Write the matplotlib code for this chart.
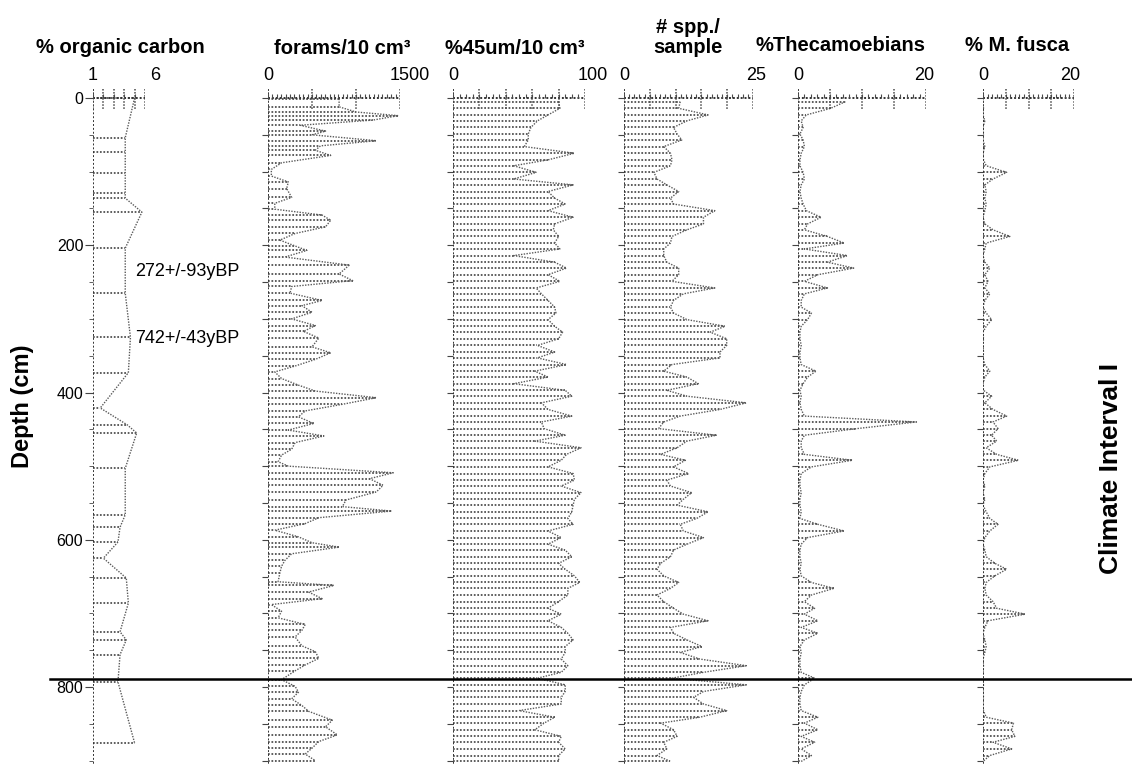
import matplotlib
matplotlib.use('Agg')
import matplotlib.pyplot as plt
import numpy as np

plt.rcParams['font.family'] = ['Liberation Sans', 'DejaVu Sans']

# ---- data ----
oc_depth = [0, 54, 73, 102, 129, 136, 155, 204, 265, 325, 373, 421, 444, 455, 503,
            566, 583, 603, 625, 652, 686, 725, 736, 756, 793, 876]
oc = [5.0, 4.1, 4.1, 4.1, 4.1, 4.1, 5.7, 4.1, 4.1, 4.6, 4.4, 1.7, 4.3, 5.2, 4.1,
      4.1, 3.6, 3.4, 2.0, 4.2, 4.4, 3.6, 4.2, 3.6, 3.4, 5.0]

forams_depth = [1, 12, 19, 24, 30, 37, 45, 50, 58, 65, 71, 78, 88, 97, 106, 114, 123, 135, 143, 151,
                159, 166, 175, 184, 193, 201, 207, 216, 227, 239, 248, 256, 265, 275, 282, 291, 300, 309, 317, 326,
                338, 346, 355, 364, 372, 381, 390, 398, 407, 416, 425, 433, 442, 451, 459, 468, 477, 485, 494, 500,
                509, 517, 526, 535, 546, 555, 561, 570, 578, 587, 596, 604, 610, 619, 628, 636, 645, 657, 662, 671,
                680, 688, 697, 706, 715, 723, 732, 744, 752, 761, 770, 778, 790, 799, 807, 816, 825, 833, 845, 854,
                865, 874, 883, 891, 900]
forams = [808, 808, 1000, 1480, 1192, 365, 654, 500, 1231, 596, 538, 712, 154, 38, 38, 231, 212, 269, 77, 77,
          615, 712, 654, 308, 135, 308, 442, 192, 923, 808, 962, 269, 250, 615, 385, 500, 269, 538, 404, 577,
          500, 712, 538, 308, 77, 154, 346, 538, 1231, 846, 423, 346, 519, 231, 635, 308, 269, 154, 115, 231,
          1423, 1154, 1308, 1231, 885, 846, 1404, 577, 423, 77, 346, 500, 808, 269, 192, 154, 135, 115, 750, 462,
          615, 38, 154, 115, 423, 385, 308, 385, 538, 577, 423, 308, 154, 308, 346, 269, 385, 462, 731, 654,
          788, 577, 500, 423, 538]

depth = [5, 14, 23, 31, 40, 49, 57, 66, 75, 84, 92, 101, 110, 118, 127, 136, 144, 153, 162, 171,
         179, 188, 197, 205, 214, 223, 231, 240, 249, 258, 266, 275, 284, 292, 301, 310, 318, 327, 336, 345,
         353, 362, 371, 379, 388, 397, 405, 414, 423, 432, 440, 449, 458, 466, 475, 484, 492, 501, 510, 519,
         527, 536, 545, 553, 562, 571, 579, 588, 597, 606, 614, 623, 632, 640, 649, 658, 666, 675, 684, 693,
         701, 710, 719, 727, 736, 745, 753, 762, 771, 780, 788, 797, 806, 814, 823, 832, 841, 849, 858, 867,
         875, 884, 893, 901]

pct45 = [80, 81, 72, 64, 59, 57, 57, 54, 92, 72, 46, 63, 46, 91, 72, 77, 85, 72, 91, 77,
         76, 80, 77, 81, 46, 77, 86, 72, 81, 63, 67, 72, 77, 78, 72, 77, 83, 80, 64, 77,
         64, 86, 62, 72, 46, 85, 90, 67, 72, 90, 67, 69, 85, 62, 97, 86, 82, 72, 91, 92,
         82, 97, 92, 91, 90, 87, 91, 72, 82, 72, 85, 90, 80, 85, 92, 96, 87, 87, 80, 72,
         82, 72, 82, 87, 91, 85, 85, 82, 87, 82, 64, 85, 85, 82, 82, 50, 77, 69, 62, 82,
         80, 85, 80, 80]

spp = [10.9, 10.6, 16.3, 12.2, 9.6, 10.3, 11.2, 7.7, 9.0, 9.3, 9.0, 5.8, 6.4, 8.3, 10.6, 9.0, 9.6, 17.6, 15.4, 15.4,
       12.2, 9.3, 9.0, 7.7, 7.7, 8.3, 10.6, 10.6, 9.3, 17.6, 11.5, 9.6, 9.0, 9.6, 12.2, 19.6, 16.7, 19.9, 19.9, 18.6,
       18.6, 9.3, 7.7, 12.2, 14.4, 8.3, 12.2, 23.7, 18.6, 10.9, 7.7, 6.7, 17.9, 12.2, 10.3, 7.1, 11.9, 9.6, 12.5, 8.3,
       9.0, 13.1, 11.5, 10.3, 16.3, 14.1, 10.9, 11.5, 15.4, 12.2, 9.6, 9.0, 7.1, 6.4, 7.7, 10.6, 9.0, 6.4, 7.7, 9.6,
       11.5, 16.3, 9.0, 9.6, 12.2, 15.1, 10.9, 14.7, 23.7, 15.4, 9.3, 23.7, 15.4, 13.5, 15.4, 19.9, 14.7, 7.1, 9.6, 10.3,
       7.7, 8.3, 6.4, 9.0]

theca = [7.4, 5.1, 1.3, 0.5, 0.8, 0.3, 0.8, 1.0, 0.5, 0.3, 0.3, 0.8, 1.0, 0.5, 0.3, 0.5, 0.8, 1.3, 3.6, 1.5,
         1.0, 4.6, 7.2, 1.0, 7.7, 4.6, 8.7, 3.1, 1.0, 4.6, 1.0, 0.5, 0.5, 2.1, 1.5, 0.5, 0.3, 0.3, 0.5, 0.3,
         0.3, 0.5, 2.8, 1.5, 0.8, 0.3, 0.5, 0.3, 0.5, 1.0, 18.5, 9.2, 1.0, 0.5, 0.5, 1.0, 8.5, 2.1, 0.5, 0.3,
         0.3, 0.5, 0.3, 0.3, 0.5, 0.3, 3.1, 7.2, 1.5, 0.5, 0.3, 0.3, 0.5, 0.3, 0.5, 2.1, 5.6, 2.1, 1.0, 2.6,
         1.0, 3.1, 0.5, 3.1, 1.0, 0.3, 0.5, 0.3, 0.3, 0.5, 2.6, 1.0, 0.5, 0.3, 0.3, 0.5, 3.1, 1.0, 3.1, 0.5,
         2.6, 0.5, 2.1, 0.5]

fusca = [0, 0.1, 0, 0.4, 0, 0.1, 0, 0.4, 0, 0.1, 0.7, 5.2, 2.2, 0.4, 0.7, 0.4, 0.7, 0.4, 0, 0.4,
         2.2, 5.9, 0.7, 0.4, 0, 0.4, 1.5, 0.4, 1.1, 0.4, 1.5, 0.4, 0, 0.7, 1.9, 0.7, 0, 0.1, 0, 0.1,
         0, 0.4, 1.5, 0.4, 0, 0.1, 1.9, 0.4, 2.2, 5.2, 2.2, 3.3, 1.9, 3.0, 0.7, 3.0, 7.8, 1.5, 0.4, 0,
         0.4, 0, 0.4, 0, 0.7, 1.5, 3.3, 1.5, 0.4, 0, 0.4, 0.7, 2.6, 5.2, 2.6, 0.7, 0.4, 0.7, 2.2, 3.0,
         9.3, 1.1, 0.4, 0, 0.4, 0.7, 0.4, 0, 0.1, 0, 0, 0.1, 0, 0.1, 0, 0.1, 0.7, 6.7, 6.3, 7.0,
         2.2, 6.3, 1.5, 0]

depth_ticks = [0, 200, 400, 600, 800]
boundary_depth = 789
dates = [(235, '272+/-93yBP'), (326, '742+/-43yBP')]

# ---- layout (pixels) ----
W, H = 1132, 764
Y0 = 98            # pixel row of depth 0
PX = 0.7363        # pixels per cm
D_TOP = -16
D_BOT = (H - Y0) / PX
ax_h = (H - (Y0 + D_TOP * PX)) / H

fig = plt.figure(figsize=(W / 100, H / 100), dpi=100)

DOT = (0, (1, 1))
GREY = '#4a4a4a'


def panel(x0, x1, lo, hi, major, minor, dep, vals, scale_lbls, hi_off):
    ax = fig.add_axes([x0 / W, 0, (x1 - x0) / W, ax_h])
    ax.patch.set_visible(False)
    ax.set_xlim(lo, hi)
    ax.set_ylim(D_BOT, D_TOP)
    for s in ax.spines.values():
        s.set_visible(False)
    ax.set_xticks([])
    # samples
    ax.hlines(dep, lo, vals, colors=GREY, linewidth=1.25, linestyles=DOT)
    ax.plot(vals, dep, color='#5a5a5a', lw=1.0, ls=DOT)
    ax.plot([lo, lo], [D_TOP + 4, D_BOT], color='#333333', lw=1.4, ls=DOT)
    # header scale
    ax.plot([lo, hi], [0, 0], color='#333333', lw=1.4, ls=DOT, clip_on=False)
    ax.vlines(np.arange(lo, hi + 1e-9, major), -12, 15, colors=GREY, lw=1.1, linestyles=DOT)
    ax.vlines(np.arange(lo, hi + 1e-9, minor), -6, 0, colors=GREY, lw=0.8)
    # scale labels
    ax.text(lo, -31, scale_lbls[0], ha='center', va='center', fontsize=13)
    ax.annotate(scale_lbls[1], (hi, -31), xytext=(hi_off, 0), textcoords='offset pixels',
                ha='center', va='center', fontsize=13, annotation_clip=False)
    # depth ticks
    ax.set_yticks(np.arange(0, 901, 50))
    ax.set_yticklabels([])
    ax.tick_params(axis='y', length=4, width=0.8, color='#444444', direction='out')
    return ax


ax_oc = panel(93, 145, 1, 6, 1, 1, oc_depth, oc, ('1', '6'), 10)
ax_oc.set_yticks(depth_ticks)
ax_oc.set_yticklabels([str(d) for d in depth_ticks], fontsize=11.5)
ax_oc.set_yticks(np.arange(0, 901, 50), minor=True)
ax_oc.tick_params(axis='y', which='major', length=6, pad=1)
ax_oc.tick_params(axis='y', which='minor', length=3, color='#444444')
for d, lbl in dates:
    ax_oc.text(5.05, d, lbl, ha='left', va='center', fontsize=13, clip_on=False)

panel(268, 400, 0, 1500, 500, 50, forams_depth, forams, ('0', '1500'), 10)
panel(453, 585, 0, 100, 20, 5, depth, pct45, ('0', '100'), 8)
panel(624, 753, 0, 25, 5, 1, depth, spp, ('0', '25'), 3)
panel(798, 926, 0, 20, 5, 1, depth, theca, ('0', '20'), -2)
panel(983, 1074, 0, 20, 5, 1, depth, fusca, ('0', '20'), -4)

# boundary line across the diagram (drawn on top)
ax_line = fig.add_axes([0, 0, 1, ax_h], zorder=10)
ax_line.patch.set_visible(False)
ax_line.set_xlim(0, W)
ax_line.set_ylim(D_BOT, D_TOP)
ax_line.axis('off')
ax_line.plot([50, W], [boundary_depth, boundary_depth], color='black', lw=1.8)

# titles
tk = dict(fontsize=14.5, fontweight='bold', ha='center', va='baseline')
fig.text(120 / W, 1 - 53 / H, '% organic carbon', **tk)
fig.text(342 / W, 1 - 54 / H, 'forams/10 cm\u00b3', **tk)
fig.text(515 / W, 1 - 54 / H, '%45um/10 cm\u00b3', **tk)
fig.text(688 / W, 1 - 33 / H, '# spp./', **tk)
fig.text(688 / W, 1 - 53 / H, 'sample', **tk)
fig.text(840 / W, 1 - 51 / H, '%Thecamoebians', **tk)
fig.text(1017 / W, 1 - 51 / H, '% M. fusca', **tk)

fig.text(22 / W, 1 - 406 / H, 'Depth (cm)', rotation=90, ha='center', va='center',
         fontsize=17, fontweight='bold')
fig.text(1111 / W, 1 - 468 / H, 'Climate Interval I', rotation=90, ha='center', va='center',
         fontsize=19, fontweight='bold')

fig.savefig('out.png', dpi=100)
